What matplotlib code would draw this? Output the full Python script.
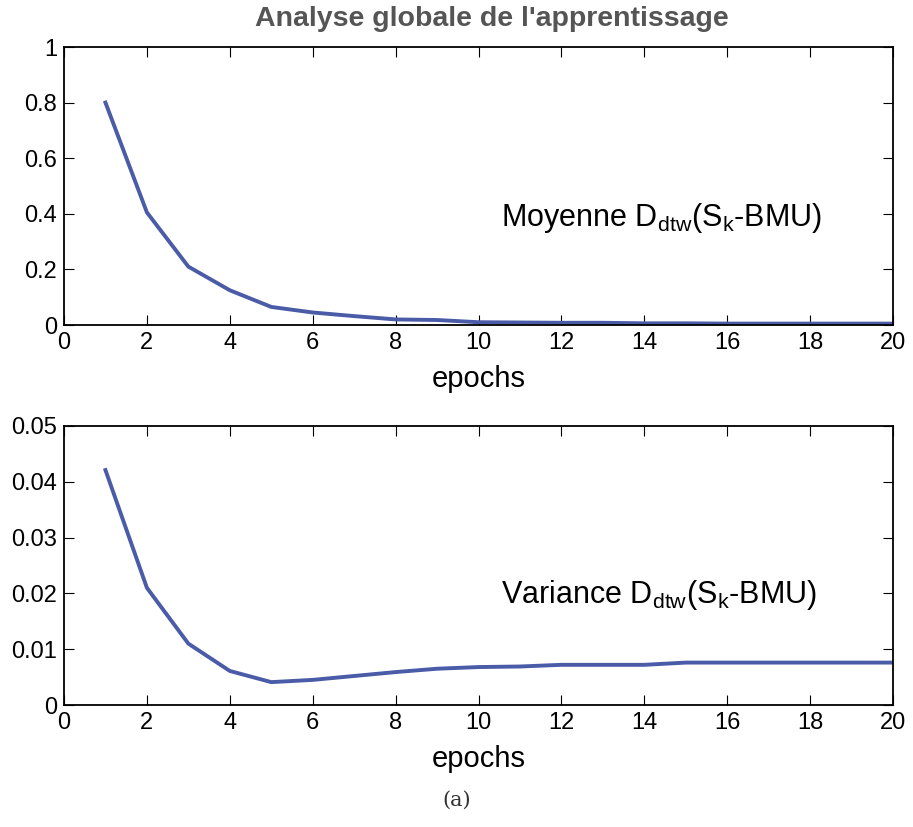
import matplotlib
matplotlib.use('Agg')
import matplotlib.pyplot as plt
import numpy as np

epochs = np.arange(1, 21)
moyenne = [0.80, 0.405, 0.21, 0.125, 0.065, 0.045, 0.032, 0.02, 0.018, 0.01,
           0.009, 0.008, 0.008, 0.006, 0.006, 0.005, 0.005, 0.005, 0.005, 0.005]
variance = [0.0421, 0.0210, 0.0110, 0.0061, 0.0041, 0.0045, 0.0052, 0.0059, 0.0065, 0.0068,
            0.0069, 0.0072, 0.0072, 0.0072, 0.0076, 0.0076, 0.0076, 0.0076, 0.0076, 0.0076]

couleur = '#4a5ba8'
plt.rcParams['font.family'] = ['Liberation Sans', 'DejaVu Sans']

fig = plt.figure(figsize=(9.13, 8.27), dpi=100)
ax1 = fig.add_axes([64/913, 1 - 325/827, 829/913, 278/827])
ax2 = fig.add_axes([64/913, 1 - 705/827, 829/913, 279/827])

def style(ax, yticks):
    ax.set_xlim(0, 20)
    ax.set_xticks(range(0, 21, 2))
    ax.set_yticks(yticks)
    ax.tick_params(direction='in', top=True, right=True, labelsize=17, length=7, pad=5)
    ax.set_xlabel('epochs', fontsize=21, labelpad=8)
    for s in ax.spines.values():
        s.set_linewidth(1.3)

ax1.plot(epochs, moyenne, color=couleur, lw=2.8)
ax1.set_ylim(0, 1)
style(ax1, [0, 0.2, 0.4, 0.6, 0.8, 1])
ax1.set_yticklabels(['0', '0.2', '0.4', '0.6', '0.8', '1'])
ax1.text(10.55, 0.385, r'Moyenne D$_{\mathregular{dtw}}$(S$_{\mathregular{k}}$-BMU)', fontsize=22, va='center')

ax2.plot(epochs, variance, color=couleur, lw=2.8)
ax2.set_ylim(0, 0.05)
style(ax2, [0, 0.01, 0.02, 0.03, 0.04, 0.05])
ax2.set_yticklabels(['0', '0.01', '0.02', '0.03', '0.04', '0.05'])
ax2.text(10.55, 0.0197, r'Variance D$_{\mathregular{dtw}}$(S$_{\mathregular{k}}$-BMU)', fontsize=22, va='center')

fig.text(492/913, 1 - 19/827, "Analyse globale de l'apprentissage", ha='center', va='center',
         fontsize=20.5, fontweight='bold', color='#555555')
fig.text(0.5, 1 - 800/827, '(a)', ha='center', va='center', fontsize=15,
         family='DejaVu Serif', color='#333333')

fig.savefig('out.png', dpi=100)
